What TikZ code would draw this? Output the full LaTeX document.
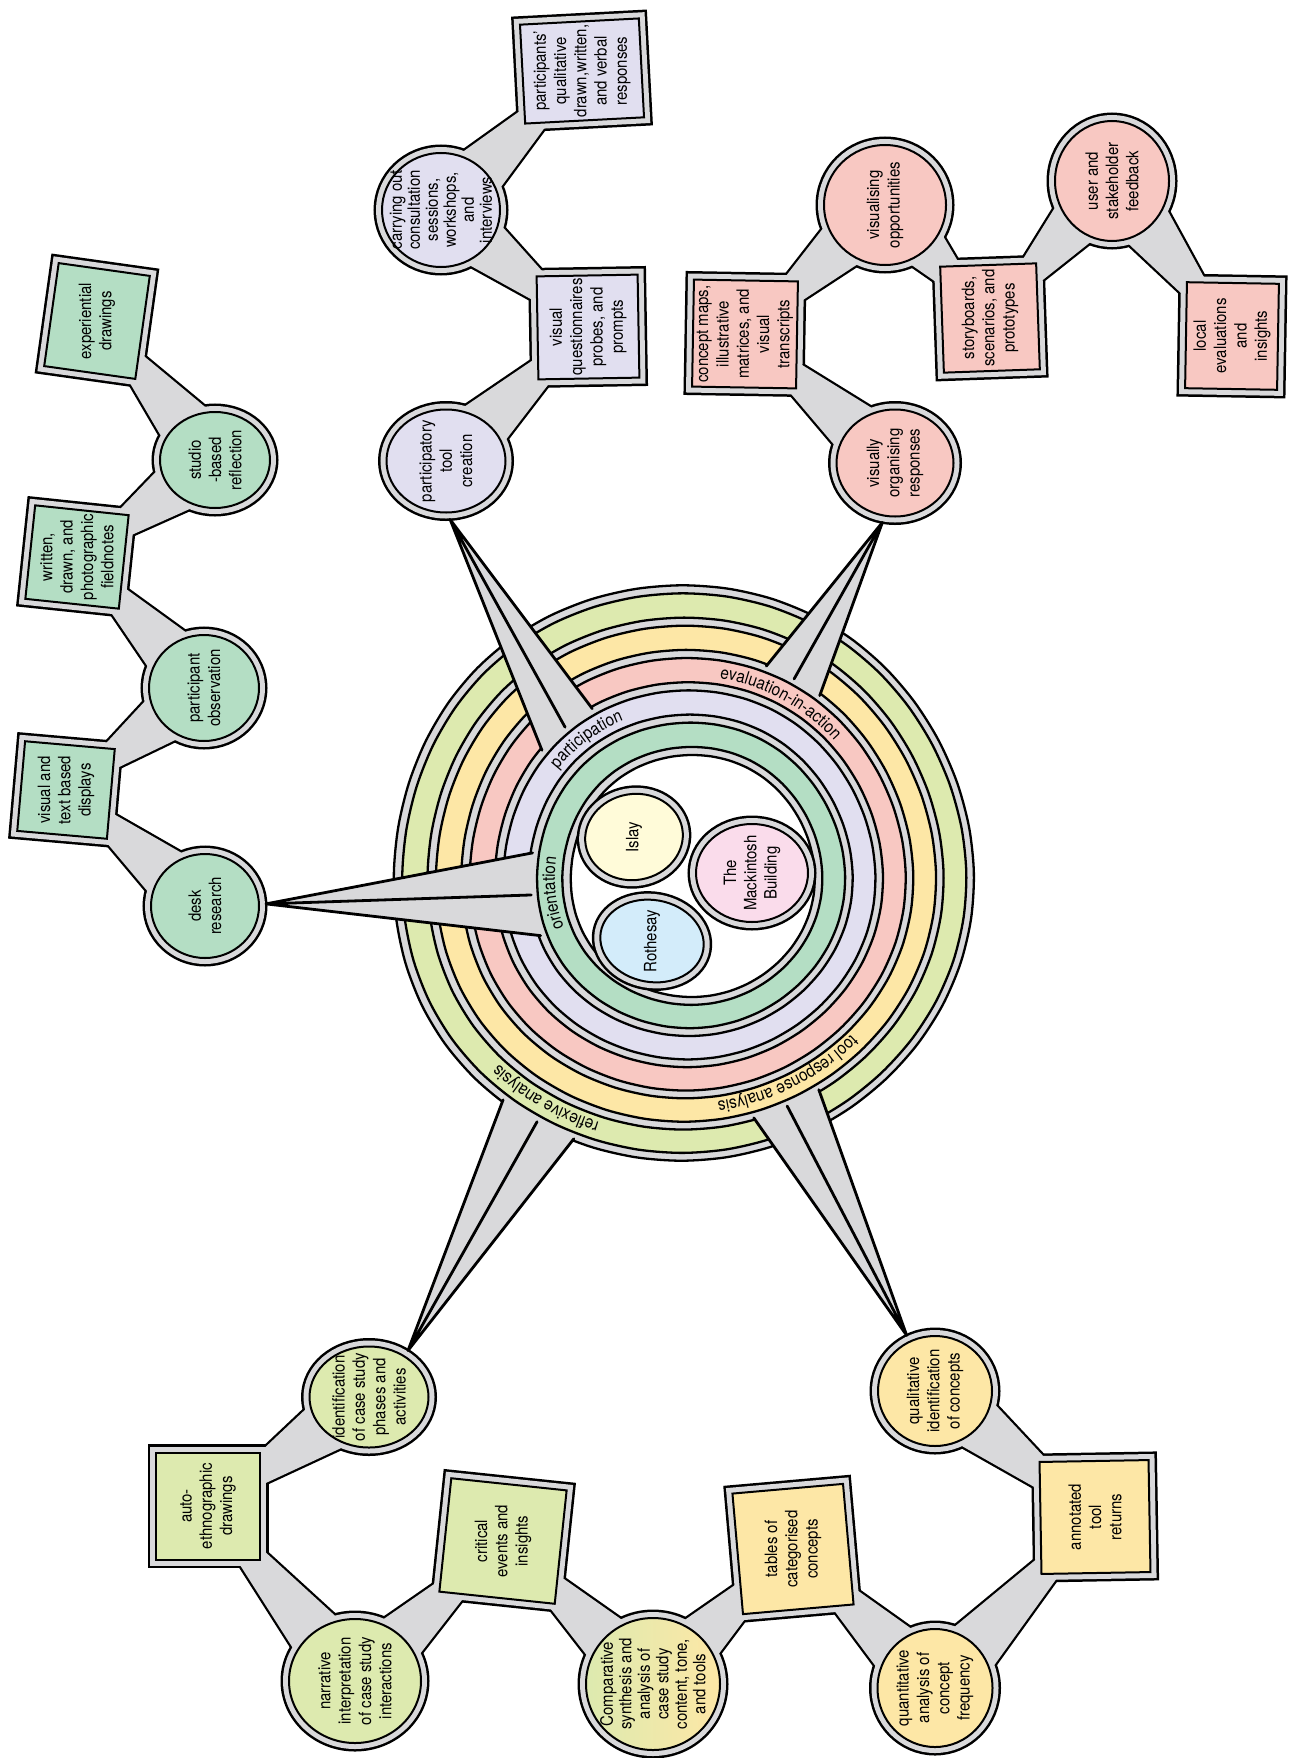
\documentclass[tikz,border=0pt]{standalone}
\usepackage{fontspec}
\setmainfont{TeX Gyre Heros}[FakeStretch=0.88]
\usetikzlibrary{shapes.geometric,calc,decorations.text}
\pgfdeclarelayer{ring}\pgfdeclarelayer{lA}\pgfdeclarelayer{lB}\pgfdeclarelayer{sp}
\pgfsetlayers{ring,lA,lB,sp,main}
\definecolor{bandgray}{HTML}{D9D9DB}
\definecolor{cgreen}{HTML}{B4DEC4}
\definecolor{cpurple}{HTML}{E1DFF0}
\definecolor{cpink}{HTML}{F8C8C2}
\definecolor{cyellow}{HTML}{FDE7A6}
\definecolor{clime}{HTML}{DDEAAF}
\definecolor{cislay}{HTML}{FFFBD9}
\definecolor{cmack}{HTML}{FADCEB}
\definecolor{croth}{HTML}{D3ECFA}
\newcommand\nodefont{\fontsize{17}{20.3}\selectfont}
\newcommand\ringfont{\fontsize{17.5}{20}\selectfont}
% wobbly ring coordinates: centre, radius, angle
\newcommand\wx[3]{(#1)+(#2)*cos(#3)*(1+0.01*sin(3*(#3)+40))}
\newcommand\wy[3]{(#1)+(#2)*sin(#3)*(1+0.008*cos(2*(#3)+10))}
\newcommand\mkring[4]{\draw[line width=2.3pt,fill=#4] plot[smooth cycle,samples=40,domain=0:351,variable=\t] ({\wx{#1}{#3}{\t}},{\wy{#2}{#3}{\t}});}
\newcommand\mklabel[6]{\path[decorate,decoration={text along path,text format delimiters={|}{|},text={|\ringfont|#6},text align=center}] plot[samples=70,domain=#4:#5,variable=\t] ({\wx{#1}{#3}{\t}},{\wy{#2}{#3}{\t}});}
\newcommand\mkbubx[6]{%
  \begin{pgfonlayer}{lA}\node[#3,draw=black,line width=17pt] (#1-a) at #2 {};\end{pgfonlayer}
  \begin{pgfonlayer}{lB}\node[#3,draw=bandgray,line width=12pt] (#1-b) at #2 {};\end{pgfonlayer}
  \node[#3,draw=black,line width=2pt,#4] (#1) at #2 {};
  \node[lbl,#6] (#1-t) at #2 {#5};}
\newcommand\mkbub[5]{\mkbubx{#1}{#2}{#3}{#4}{#5}{}}
\newcommand\mkneck[2]{%
  \coordinate (#1#2e) at ($(#2)!40pt!(#1)$);
  \coordinate (#1#2p) at ($(#1)!35pt!90:(#2)$);
  \coordinate (#1#2q) at ($(#1)!35pt!-90:(#2)$);
  \coordinate (#1#2r) at ($(#1#2e)!10pt!-90:(#1)$);
  \coordinate (#1#2s) at ($(#1#2e)!10pt!90:(#1)$);
  \begin{pgfonlayer}{lA}\draw[line width=4.5pt,line join=round] (#1#2p) -- (#1#2r) -- (#1#2s) -- (#1#2q) -- cycle;\end{pgfonlayer}
  \begin{pgfonlayer}{lB}\fill[bandgray] (#1#2p) -- (#1#2r) -- (#1#2s) -- (#1#2q) -- cycle;\end{pgfonlayer}}
\newcommand\mkspoke[7]{%
  \coordinate (#1-tip) at ($(#1.#2)!-7pt!(#1.center)$);
  \coordinate (#1-b1) at ({\wx{#3}{#5}{#6-#7}},{\wy{#4}{#5}{#6-#7}});
  \coordinate (#1-bm) at ({\wx{#3}{#5}{#6}},{\wy{#4}{#5}{#6}});
  \coordinate (#1-b2) at ({\wx{#3}{#5}{#6+#7}},{\wy{#4}{#5}{#6+#7}});
  \begin{pgfonlayer}{sp}
  \fill[bandgray] (#1-tip) -- (#1-b1) -- (#1-bm) -- (#1-b2) -- cycle;
  \draw[spokeline] (#1-b1) -- (#1-tip) -- (#1-b2) (#1-tip) -- (#1-bm);
  \end{pgfonlayer}}
\begin{document}
\begin{tikzpicture}[x=1pt,y=-1pt,
  circ/.style={ellipse,inner sep=0pt,outer sep=0pt},
  box/.style={rectangle,inner sep=0pt,outer sep=0pt},
  lbl/.style={rotate=90,align=center,font=\nodefont,inner sep=0pt,text=black},
  spokeline/.style={line width=2.8pt,line join=round,line cap=round}]
\useasboundingbox (0,0) rectangle (1302,1758);
\begin{pgfonlayer}{ring}
\fill[white] (0,0) rectangle (1302,1758);
\mkring{682}{873}{290}{bandgray}
\mkring{682.5}{873.1}{282}{clime}
\mkring{683.9}{873.6}{258}{bandgray}
\mkring{684.4}{873.7}{250}{cyellow}
\mkring{685.8}{874.1}{226}{bandgray}
\mkring{686.3}{874.3}{218}{cpink}
\mkring{687.7}{874.7}{194}{bandgray}
\mkring{688.2}{874.9}{186}{cpurple}
\mkring{689.6}{875.3}{162}{bandgray}
\mkring{690.1}{875.4}{154}{cgreen}
\mkring{691.5}{875.9}{130}{bandgray}
\mkring{692}{876}{122}{white}
\end{pgfonlayer}
\mklabel{690.1}{875.4}{136}{140}{205}{orientation}
\mklabel{688.2}{874.9}{168}{200}{266}{participation}
\mklabel{686.3}{874.3}{200}{-100}{-22}{evaluation-in-action}
\mklabel{684.4}{873.7}{232}{28}{98}{tool response analysis}
\mklabel{682.5}{873.1}{264}{90}{152}{reflexive analysis}
% inner sites
\mkbub{isl}{(634,837)}{circ,minimum width=98,minimum height=86,rotate=10}{fill=cislay}{Islay}
\mkbub{mac}{(752,873)}{circ,minimum width=112,minimum height=98}{fill=cmack}{The\\Mackintosh\\Building}
\mkbub{rot}{(652,941)}{circ,minimum width=104,minimum height=82,rotate=-10}{fill=croth}{Rothesay}
% green branch
\mkbub{dr}{(205,906)}{circ,minimum width=108,minimum height=104}{fill=cgreen}{desk\\research}
\mkbub{vt}{(66,790)}{box,minimum width=90,minimum height=90,rotate=-5}{fill=cgreen}{visual and\\text based\\displays}
\mkbub{po}{(204,688)}{circ,minimum width=110,minimum height=106}{fill=cgreen}{participant\\observation}
\mkbub{fn}{(77,557)}{box,minimum width=94,minimum height=94,rotate=-6}{fill=cgreen}{written,\\drawn, and\\photographic\\fieldnotes}
\mkbub{sb}{(215,460)}{circ,minimum width=110,minimum height=96}{fill=cgreen}{studio\\-based\\reflection}
\mkbub{ed}{(97,321)}{box,minimum width=92,minimum height=104,rotate=-8}{fill=cgreen}{experiential\\drawings}
% purple branch
\mkbub{ptc}{(446,461)}{circ,minimum width=119,minimum height=103}{fill=cpurple}{participatory\\tool\\creation}
\mkbub{vq}{(588,327)}{box,minimum width=101,minimum height=103,rotate=1}{fill=cpurple}{visual\\questionnaires\\probes, and\\prompts}
\mkbubx{co}{(441,210)}{circ,minimum width=118,minimum height=114}{fill=cpurple}{carrying out\\consultation\\sessions,\\workshops,\\and\\interviews}{font=\fontsize{17}{18}\selectfont}
\mkbub{pr}{(582,71)}{box,minimum width=119,minimum height=99,rotate=3}{fill=cpurple}{participants’\\qualitative\\drawn,written,\\and verbal\\responses}
% pink branch
\mkbub{vor}{(895,463)}{circ,minimum width=117,minimum height=107}{fill=cpink}{visually\\organising\\responses}
\mkbub{cm}{(745,334)}{box,minimum width=104,minimum height=107,rotate=-1}{fill=cpink}{concept maps,\\illustrative\\matrices, and\\visual\\transcripts}
\mkbub{vop}{(885,205)}{circ,minimum width=122,minimum height=120}{fill=cpink}{visualising\\opportunities}
\mkbub{sbp}{(990,318)}{box,minimum width=96,minimum height=106,rotate=2}{fill=cpink}{storyboards,\\scenarios, and\\prototypes}
\mkbub{usf}{(1112,181)}{circ,minimum width=114,minimum height=120}{fill=cpink}{user and\\stakeholder\\feedback}
\mkbub{le}{(1232,336)}{box,minimum width=92,minimum height=106,rotate=-1}{fill=cpink}{local\\evaluations\\and\\insights}
% yellow branch
\mkbub{qic}{(935,1391)}{circ,minimum width=114,minimum height=110}{fill=cyellow}{qualitative\\identification\\of concepts}
\mkbub{atr}{(1095,1517)}{box,minimum width=109,minimum height=112,rotate=1}{fill=cyellow}{annotated\\tool\\returns}
\mkbub{qa}{(935,1688)}{circ,minimum width=115,minimum height=118}{fill=cyellow}{quantitative\\analysis of\\concept\\frequency}
\mkbub{tcc}{(793,1549)}{box,minimum width=111,minimum height=121,rotate=5}{fill=cyellow}{tables of\\categorised\\concepts}
% lime branch
\mkbub{icp}{(369,1397)}{circ,minimum width=119,minimum height=101}{fill=clime}{identification\\of case study\\phases and\\activities}
\mkbub{aed}{(208,1506)}{box,minimum width=104,minimum height=107}{fill=clime}{auto-\\ethnographic\\drawings}
\mkbub{nic}{(355,1681)}{circ,minimum width=132,minimum height=124}{fill=clime}{narrative\\interpretation\\of case study\\interactions}
\mkbub{cei}{(503,1541)}{box,minimum width=116,minimum height=114,rotate=-6}{fill=clime}{critical\\events and\\insights}
\mkbubx{cs}{(653,1684)}{circ,minimum width=134,minimum height=132}{left color=clime,middle color=clime!60!cyellow,right color=cyellow}{Comparative\\synthesis and\\analysis of\\case study\\content, tone,\\and tools}{font=\fontsize{17}{18.5}\selectfont}
% spokes from the rings
\mkspoke{dr}{2}{689.6}{875.3}{160}{173}{15}
\mkspoke{ptc}{274}{687.7}{874.7}{192}{230.4}{10}
\mkspoke{vor}{258}{685.8}{874.1}{224}{299.1}{8}
\mkspoke{qic}{117}{683.9}{873.6}{256}{66}{8}
\mkspoke{icp}{50}{682}{873}{288}{120}{8}
% chain connectors
\mkneck{dr}{vt}\mkneck{po}{vt}\mkneck{po}{fn}\mkneck{sb}{fn}\mkneck{sb}{ed}
\mkneck{ptc}{vq}\mkneck{co}{vq}\mkneck{co}{pr}
\mkneck{vor}{cm}\mkneck{vop}{cm}\mkneck{vop}{sbp}\mkneck{usf}{sbp}\mkneck{usf}{le}
\mkneck{qic}{atr}\mkneck{qa}{atr}\mkneck{qa}{tcc}\mkneck{cs}{tcc}
\mkneck{icp}{aed}\mkneck{nic}{aed}\mkneck{nic}{cei}\mkneck{cs}{cei}
\end{tikzpicture}
\end{document}
